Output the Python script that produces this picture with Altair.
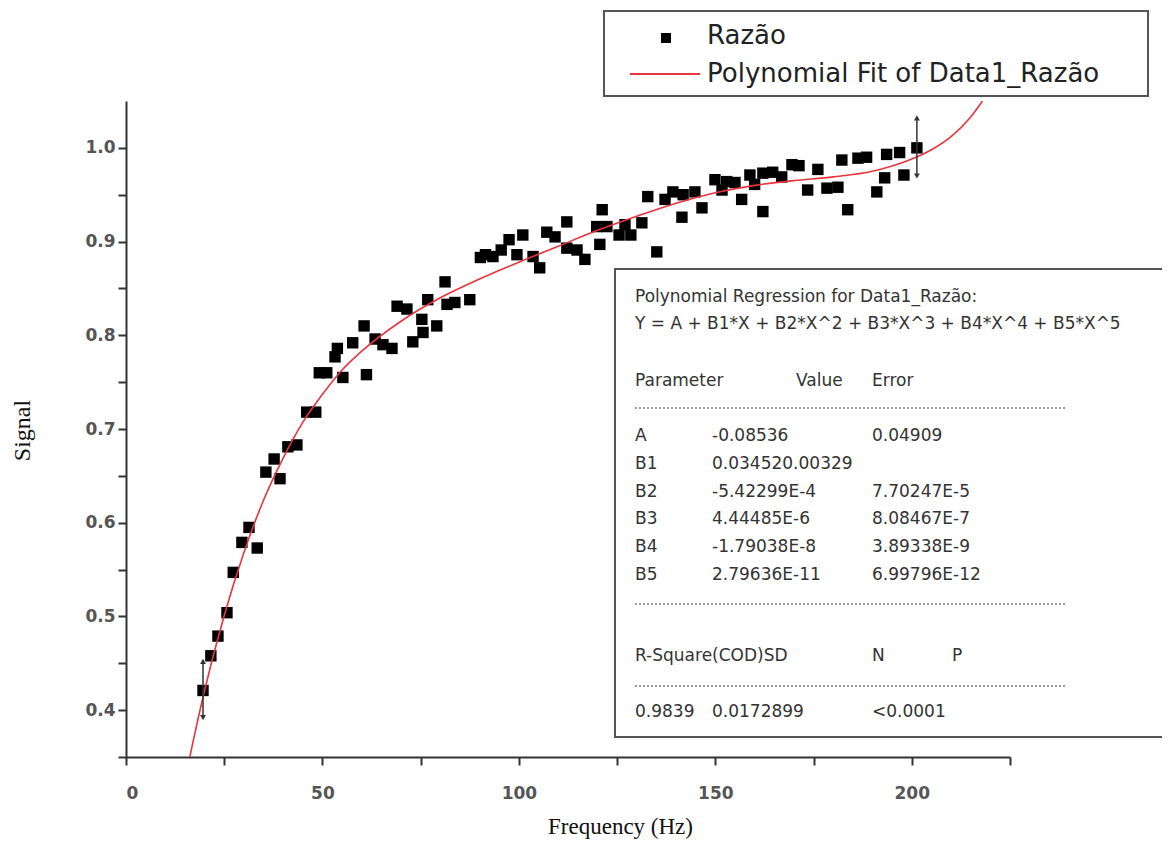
import altair as alt
import pandas as pd

# ---------------- data ----------------
freq = [19.6, 21.6, 23.4, 25.7, 27.3, 29.5, 31.3, 33.4, 35.6, 37.7, 39.2, 41.2, 43.5,
        46.0, 48.3, 49.2, 51.1, 53.2, 53.8, 55.2, 57.7, 60.6, 61.2, 63.4, 65.4, 67.7,
        69.0, 71.5, 73.0, 75.3, 75.6, 76.8, 79.1, 81.2, 81.7, 83.7, 87.5, 90.2, 91.5,
        93.4, 95.5, 97.5, 99.5, 101.0, 103.6, 105.3, 107.1, 109.2, 112.2, 112.2, 114.8,
        116.8, 119.8, 120.6, 121.2, 122.4, 125.5, 127.0, 128.5, 131.3, 132.8, 135.1,
        137.2, 139.2, 141.5, 141.8, 144.8, 146.6, 149.9, 151.7, 152.9, 155.0, 156.7,
        158.8, 160.0, 162.1, 162.1, 164.6, 166.9, 169.5, 171.3, 173.5, 176.1, 178.4,
        181.2, 182.2, 183.7, 186.3, 188.5, 191.1, 193.1, 193.6, 196.9, 198.0, 201.3]
signal = [0.421, 0.458, 0.479, 0.504, 0.547, 0.579, 0.595, 0.573, 0.654, 0.668, 0.647, 0.681, 0.683,
          0.718, 0.718, 0.760, 0.760, 0.777, 0.786, 0.755, 0.792, 0.810, 0.758, 0.796, 0.790, 0.786,
          0.831, 0.828, 0.793, 0.817, 0.803, 0.838, 0.810, 0.857, 0.833, 0.835, 0.838, 0.883, 0.886,
          0.884, 0.891, 0.902, 0.886, 0.907, 0.884, 0.872, 0.910, 0.905, 0.921, 0.893, 0.891,
          0.881, 0.916, 0.897, 0.934, 0.916, 0.907, 0.918, 0.907, 0.920, 0.948, 0.889,
          0.945, 0.953, 0.926, 0.950, 0.953, 0.936, 0.966, 0.955, 0.964, 0.963, 0.945,
          0.971, 0.961, 0.932, 0.973, 0.974, 0.969, 0.982, 0.981, 0.955, 0.977, 0.957,
          0.958, 0.987, 0.934, 0.989, 0.990, 0.953, 0.968, 0.993, 0.995, 0.971, 1.000]

fit_x = [16, 17, 20, 25, 30, 35, 40, 45, 50, 55, 60, 70, 80, 90, 100, 110, 120, 130,
         140, 150, 160, 170, 180, 190, 200, 205, 210, 215, 218]
fit_y = [0.345, 0.365, 0.421, 0.501, 0.568, 0.624, 0.669, 0.707, 0.737, 0.763, 0.783,
         0.815, 0.840, 0.860, 0.878, 0.895, 0.912, 0.927, 0.941, 0.952, 0.960, 0.965,
         0.969, 0.975, 0.988, 0.998, 1.012, 1.033, 1.050]

err_x = [19.6, 201.3]
err_lo = [0.392, 0.970]
err_hi = [0.452, 1.032]

x_ticks = [0, 25, 50, 75, 100, 125, 150, 175, 200, 225]
y_ticks = [0.35, 0.4, 0.45, 0.5, 0.55, 0.6, 0.65, 0.7, 0.75, 0.8, 0.85, 0.9, 0.95, 1.0]

stats_lines = [
    ("Polynomial Regression for Data1_Razão:", 635, 297),
    ("Y = A + B1*X + B2*X^2 + B3*X^3 + B4*X^4 + B5*X^5", 635, 324),
    ("Parameter", 635, 381), ("Value", 796, 381), ("Error", 872, 381),
    ("A", 635, 436), ("-0.08536", 712, 436), ("0.04909", 872, 436),
    ("B1", 635, 464), ("0.034520.00329", 712, 464),
    ("B2", 635, 492), ("-5.42299E-4", 712, 492), ("7.70247E-5", 872, 492),
    ("B3", 635, 519), ("4.44485E-6", 712, 519), ("8.08467E-7", 872, 519),
    ("B4", 635, 547), ("-1.79038E-8", 712, 547), ("3.89338E-9", 872, 547),
    ("B5", 635, 575), ("2.79636E-11", 712, 575), ("6.99796E-12", 872, 575),
    ("R-Square(COD)SD", 635, 656), ("N", 872, 656), ("P", 952, 656),
    ("0.9839", 635, 712), ("0.0172899", 712, 712), ("<0.0001", 872, 712),
]
dotted_y = [408, 604, 686]

# ---------------- layout ----------------
OX, OY = 126, 101          # plot origin on the page
W, H = 884, 656

xs = alt.Scale(domain=[0, 225], nice=False, zero=False)
ys = alt.Scale(domain=[0.35, 1.05], nice=False, zero=False)

xaxis = alt.Axis(
    values=x_ticks, labelExpr="datum.value % 50 == 0 ? datum.label : ''", format="d",
    grid=False, tickSize=8, tickWidth=2, tickColor="#333", domainColor="#333", domainWidth=2,
    labelFont="DejaVu Sans", labelFontSize=17, labelFontWeight="bold", labelColor="#555",
    labelPadding=20, title="Frequency (Hz)", titleFont="Liberation Serif", titleFontSize=23,
    titleFontWeight="normal", titleColor="#111", titleX=620 - OX, titleY=838 - (OY + H),
    titleAlign="center", titleBaseline="bottom")
yaxis = alt.Axis(
    values=y_ticks,
    labelExpr="abs(datum.value*10 - round(datum.value*10)) < 0.001 ? format(datum.value, '.1f') : ''",
    grid=False, tickSize=8, tickWidth=2, tickColor="#333", domainColor="#333", domainWidth=2,
    labelFont="DejaVu Sans", labelFontSize=17, labelFontWeight="bold", labelColor="#555",
    labelPadding=3, title="Signal", titleFont="Liberation Serif", titleFontSize=24,
    titleFontWeight="normal", titleColor="#111", titleX=22 - OX, titleY=430 - OY,
    titleAlign="center", titleBaseline="middle", titleAngle=270)

df = pd.DataFrame({"freq": freq, "signal": signal})
fit = pd.DataFrame({"x": fit_x, "y": fit_y})
err = pd.DataFrame({"x": err_x, "lo": err_lo, "hi": err_hi})

pts = alt.Chart(df).mark_point(shape="square", filled=True, size=130, color="black",
                               opacity=1).encode(
    x=alt.X("freq:Q", scale=xs, axis=xaxis),
    y=alt.Y("signal:Q", scale=ys, axis=yaxis))

line = alt.Chart(fit).mark_line(color="#e8343c", strokeWidth=1.6, clip=True,
                                interpolate="monotone").encode(
    x=alt.X("x:Q", scale=xs), y=alt.Y("y:Q", scale=ys))

ebar = alt.Chart(err).mark_rule(color="#333", strokeWidth=1.5).encode(
    x=alt.X("x:Q", scale=xs), y=alt.Y("lo:Q", scale=ys), y2="hi:Q")
ecap_top = alt.Chart(err).mark_point(shape="triangle-up", filled=True, size=35,
                                     color="#333", opacity=1).encode(
    x=alt.X("x:Q", scale=xs), y=alt.Y("hi:Q", scale=ys))
ecap_bot = alt.Chart(err).mark_point(shape="triangle-down", filled=True, size=35,
                                     color="#333", opacity=1).encode(
    x=alt.X("x:Q", scale=xs), y=alt.Y("lo:Q", scale=ys))

one = pd.DataFrame({"a": [0]})


def rect(x1, y1, x2, y2, fill="white", stroke="#555", sw=2):
    return alt.Chart(one).mark_rect(fill=fill, stroke=stroke, strokeWidth=sw).encode(
        x=alt.value(x1 - OX), x2=alt.value(x2 - OX), y=alt.value(y1 - OY), y2=alt.value(y2 - OY))


def hline(x1, x2, y, color, sw, dash=None):
    kw = dict(color=color, strokeWidth=sw)
    if dash:
        kw["strokeDash"] = dash
    return alt.Chart(one).mark_rule(**kw).encode(
        x=alt.value(x1 - OX), x2=alt.value(x2 - OX), y=alt.value(y - OY))


def text(s, px, py, size, font="DejaVu Sans", color="#333"):
    return alt.Chart(pd.DataFrame({"t": [s]})).mark_text(
        align="left", baseline="middle", font=font, fontSize=size, color=color).encode(
        x=alt.value(px - OX), y=alt.value(py - OY), text="t:N")


layers = [pts, line, ebar, ecap_top, ecap_bot]

# stats box
layers.append(rect(615, 269, 1200, 737))
for s, px, py in stats_lines:
    layers.append(text(s, px, py, 17, color="#333"))
for yy in dotted_y:
    layers.append(hline(635, 1065, yy, "#777", 1.5, [2, 2]))

# legend box
layers.append(rect(604, 11, 1148, 96))
layers.append(alt.Chart(one).mark_point(shape="square", filled=True, size=100, color="black",
                                        opacity=1).encode(x=alt.value(666 - OX), y=alt.value(38 - OY)))
layers.append(text("Razão", 707, 36, 26, color="#222"))
layers.append(hline(630, 700, 74, "#e8343c", 1.8))
layers.append(text("Polynomial Fit of Data1_Razão", 707, 74, 26, color="#222"))

chart = alt.layer(*layers).properties(
    width=W, height=H,
    padding={"left": OX - 8, "top": OY - 8, "right": 152, "bottom": 83},
    autosize=alt.AutoSizeParams(type="none"),
    background="white",
).configure_view(stroke=None)

chart.save("out.html", embed_options={"renderer": "svg", "actions": False})
